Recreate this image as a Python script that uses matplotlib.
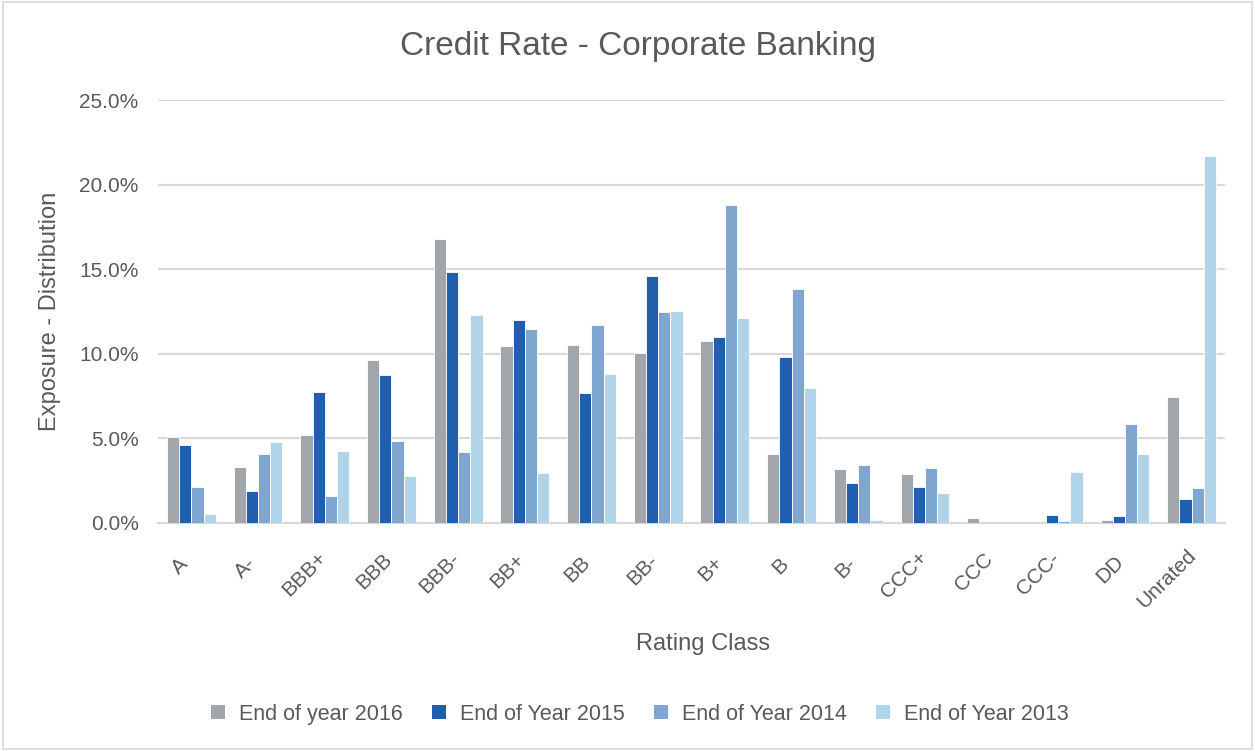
import numpy as np
import matplotlib
matplotlib.use("Agg")
import matplotlib.pyplot as plt
from matplotlib.patches import Patch, Rectangle
from matplotlib.ticker import PercentFormatter

plt.rcParams['font.family'] = ['Liberation Sans', 'DejaVu Sans']

# Exposure distribution (%) by rating class
classes = ["A", "A-", "BBB+", "BBB", "BBB-", "BB+", "BB", "BB-", "B+", "B",
           "B-", "CCC+", "CCC", "CCC-", "DD", "Unrated"]
y2016 = [5.08, 3.31, 5.23, 9.65, 16.81, 10.45, 10.51, 10.02, 10.75, 4.06,
         3.20, 2.89, 0.30, 0.00, 0.19, 7.42]
y2015 = [4.61, 1.91, 7.74, 8.74, 14.86, 12.01, 7.66, 14.59, 11.01, 9.81,
         2.35, 2.13, 0.00, 0.49, 0.43, 1.44]
y2014 = [2.10, 4.07, 1.61, 4.82, 4.19, 11.48, 11.68, 12.46, 18.80, 13.86,
         3.43, 3.23, 0.00, 0.10, 5.88, 2.09]
y2013 = [0.55, 4.76, 4.27, 2.79, 12.30, 2.97, 8.80, 12.52, 12.13, 7.97,
         0.15, 1.77, 0.00, 3.03, 4.07, 21.72]

series = [y2016, y2015, y2014, y2013]
names = ["End of year 2016", "End of Year 2015", "End of Year 2014", "End of Year 2013"]
colors = ["#A0A6A9", "#1F5FAD", "#7FA6CF", "#B0D4E9"]
txt = "#595959"
grid = "#D9D9D9"

fig = plt.figure(figsize=(12.55, 7.51), dpi=100)
ax = fig.add_axes([0.1259, 0.3036, 0.8502, 0.5632])

x = np.arange(len(classes))
w = 0.183
for i, (vals, c) in enumerate(zip(series, colors)):
    ax.bar(x + (i - 1.5) * w, vals, w, color=c, edgecolor="white",
           linewidth=0.6, zorder=3)

ax.set_xlim(-0.5, len(classes) - 0.5)
ax.set_ylim(0, 25)
ax.set_yticks(np.arange(0, 26, 5))
ax.yaxis.set_major_formatter(PercentFormatter(decimals=1))
ax.grid(axis="y", color=grid, linewidth=1.5, zorder=0)
for s in ["top", "right", "left"]:
    ax.spines[s].set_visible(False)
ax.spines["bottom"].set_color(grid)
ax.spines["bottom"].set_linewidth(1.5)

ax.set_xticks(x)
ax.set_xticklabels([])
ax.tick_params(axis="both", length=0, colors=txt, labelsize=15)
ax.tick_params(axis="y", pad=14)

# rotated category labels; shorter ones slide down-left along their diagonal
labs = []
for i, name in enumerate(classes):
    t = ax.annotate(name, xy=(i, 0), xycoords=("data", "axes fraction"),
                    xytext=(0, -16), textcoords="offset points", rotation=45,
                    ha="right", va="top", rotation_mode="anchor",
                    fontsize=15, color=txt)
    labs.append(t)
fig.canvas.draw()
r = fig.canvas.get_renderer()
lens = [t.get_window_extent(r).width / 0.7071 for t in labs]
lmax = max(lens)
for t, L in zip(labs, lens):
    d = (lmax - L) * 0.72
    t.xyann = (-3.6 - 0.13 * d, -16 - 0.15 * d)

fig.text(0.508, 0.938, "Credit Rate - Corporate Banking", ha="center",
         va="center", fontsize=24, color=txt)
fig.text(0.560, 0.143, "Rating Class", ha="center", va="center",
         fontsize=17, color=txt)
fig.text(0.040, 0.585, "Exposure - Distribution", ha="center", va="center",
         rotation=90, fontsize=17, color=txt)

handles = [Patch(facecolor=c, edgecolor="none") for c in colors]
fig.legend(handles, names, loc="center", bbox_to_anchor=(0.51, 0.049),
           ncol=4, frameon=False, fontsize=15.5, labelcolor=txt,
           handlelength=0.65, handleheight=0.65, handletextpad=0.65,
           columnspacing=1.35)

# outer chart border
fig.patches.append(Rectangle((0.002, 0.003), 0.996, 0.994, transform=fig.transFigure,
                             fill=False, edgecolor=grid, linewidth=1.2))

fig.savefig("out.png", dpi=100)
